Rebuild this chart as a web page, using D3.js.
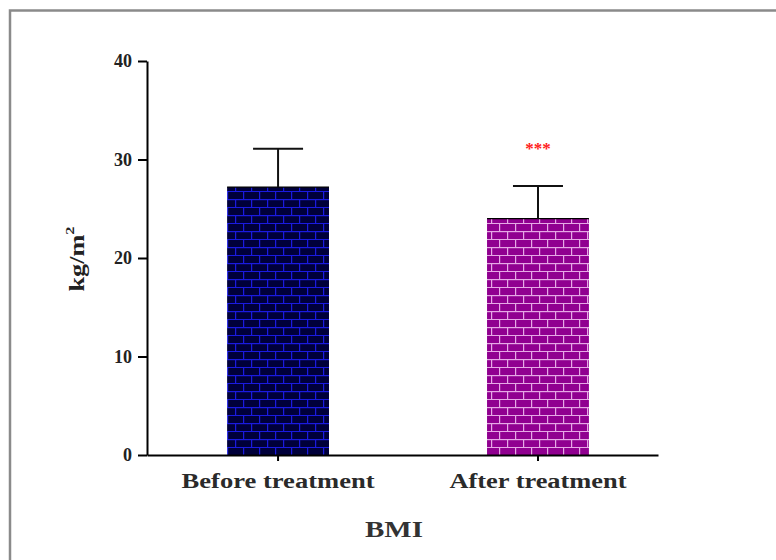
<!DOCTYPE html>
<html><head><meta charset="utf-8">
<script src="https://cdn.jsdelivr.net/npm/d3@7"></script>
<style>body{margin:0;background:#fff}svg{display:block}</style>
</head><body>
<script>
const categories = ["Before treatment", "After treatment"];
const means = [27.2, 24.0];
const errors = [3.9, 3.3];
const yTicks = [0, 10, 20, 30, 40];
const significance = ["", "***"];

const W = 776, H = 560;
const svg = d3.select("body").append("svg").attr("width", W).attr("height", H);
const defs = svg.append("defs");

function brick(id, bg, mortar) {
  const p = defs.append("pattern").attr("id", id).attr("patternUnits", "userSpaceOnUse")
    .attr("width", 16).attr("height", 16).attr("x", 0).attr("y", 0);
  p.append("rect").attr("width", 16).attr("height", 16).attr("fill", bg);
  p.append("rect").attr("x", 0).attr("y", 7).attr("width", 16).attr("height", 1.2).attr("fill", mortar);
  p.append("rect").attr("x", 0).attr("y", 15).attr("width", 16).attr("height", 1.2).attr("fill", mortar);
  p.append("rect").attr("x", 3).attr("y", 0).attr("width", 1.2).attr("height", 8).attr("fill", mortar);
  p.append("rect").attr("x", 11).attr("y", 8).attr("width", 1.2).attr("height", 8).attr("fill", mortar);
}
brick("b0", "#00003a", "#1a1ae0");
brick("b1", "#900090", "#e6a8e6");
const fills = ["url(#b0)", "url(#b1)"];

// frame
svg.append("path").attr("d", `M10,${H+5} L10,10.5 L${W+5},10.5`).attr("fill", "none")
  .attr("stroke", "#8a8a8a").attr("stroke-width", 2.5);

const y = d3.scaleLinear().domain([0, 40]).range([455, 61]);
const x = d3.scaleBand().domain(categories).range([147, 658]).paddingInner(0.608).paddingOuter(0.287).align(0.537);

const font = "'Liberation Serif', 'Times New Roman', serif";

const bars = svg.append("g");
bars.selectAll("rect").data(categories).join("rect")
  .attr("x", d => x(d)).attr("width", x.bandwidth())
  .attr("y", (d, i) => y(means[i])).attr("height", (d, i) => y(0) - y(means[i]))
  .attr("fill", (d, i) => fills[i]);
bars.selectAll("line.top").data(categories).join("line").attr("class", "top")
  .attr("x1", d => x(d)).attr("x2", d => x(d) + x.bandwidth())
  .attr("y1", (d, i) => y(means[i])).attr("y2", (d, i) => y(means[i]))
  .attr("stroke", "#000").attr("stroke-width", 1.2);

// error bars
const eb = svg.append("g").attr("stroke", "#111").attr("stroke-width", 2);
categories.forEach((c, i) => {
  const cx = x(c) + x.bandwidth() / 2;
  eb.append("line").attr("x1", cx).attr("x2", cx).attr("y1", y(means[i])).attr("y2", y(means[i] + errors[i]));
  eb.append("line").attr("x1", cx - 25).attr("x2", cx + 25).attr("y1", y(means[i] + errors[i])).attr("y2", y(means[i] + errors[i]));
});

// significance
svg.append("g").selectAll("text").data(categories).join("text")
  .attr("x", d => x(d) + x.bandwidth() / 2)
  .attr("y", (d, i) => y(means[i] + errors[i]) - 32)
  .attr("text-anchor", "middle").attr("fill", "#ff2020")
  .attr("font-family", font).attr("font-size", 17).attr("font-weight", "bold")
  .text((d, i) => significance[i]);

// y axis
const ya = svg.append("g").attr("transform", "translate(147,0)")
  .call(d3.axisLeft(y).tickValues(yTicks).tickSize(9).tickSizeOuter(0).tickPadding(6));
ya.select(".domain").attr("stroke", "#000").attr("stroke-width", 2);
ya.selectAll(".tick line").attr("stroke", "#000").attr("stroke-width", 2);
ya.selectAll(".tick text").attr("font-family", font).attr("font-size", 18).attr("font-weight", "bold")
  .attr("fill", "#222").attr("dy", "0.33em");

// x axis
const xLabelWidths = [193, 177];
const xa = svg.append("g").attr("transform", "translate(0,455)")
  .call(d3.axisBottom(x).tickSize(6).tickSizeOuter(0).tickPadding(13));
xa.select(".domain").attr("stroke", "#000").attr("stroke-width", 2);
xa.selectAll(".tick line").attr("stroke", "#000").attr("stroke-width", 2);
xa.selectAll(".tick text").attr("font-family", font).attr("font-size", 20).attr("font-weight", "bold")
  .attr("fill", "#2a2a2a")
  .attr("textLength", (d, i) => xLabelWidths[i]).attr("lengthAdjust", "spacingAndGlyphs");

// axis titles
svg.append("text").attr("x", 394).attr("y", 537).attr("text-anchor", "middle")
  .attr("font-family", font).attr("font-size", 23).attr("font-weight", "bold").attr("fill", "#333")
  .attr("textLength", 58).attr("lengthAdjust", "spacingAndGlyphs").text("BMI");

const yl = svg.append("text").attr("transform", "translate(84,259) rotate(-90) scale(1.25,1)")
  .attr("text-anchor", "middle").attr("font-family", font).attr("font-size", 21)
  .attr("font-weight", "bold").attr("fill", "#222");
yl.append("tspan").text("kg/m");
yl.append("tspan").attr("font-size", 13).attr("dy", -10).text("2");
</script>
</body></html>
